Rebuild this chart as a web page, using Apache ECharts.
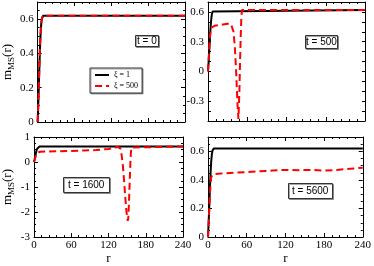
<!DOCTYPE html>
<html><head><meta charset="utf-8">
<script src="https://cdn.jsdelivr.net/npm/echarts@6/dist/echarts.min.js"></script>
<style>html,body{margin:0;padding:0;background:#fff}#c{width:374px;height:266px}</style>
</head><body><div id="c"></div>
<script>
// ---- data ----
const seriesNames = ['\u03be = 1', '\u03be = 500'];
const timeLabels = ['t = 0', 't = 500', 't = 1600', 't = 5600'];
const xTickLabels = ['0', '60', '120', '180', '240'];

// xi = 1 (same in every panel)
const rBlack = [0, 1, 2, 3, 4, 5, 6, 7, 8, 9, 10, 240];
const vBlack = [0, 0.1, 0.22, 0.34, 0.45, 0.53, 0.58, 0.605, 0.615, 0.62, 0.62, 0.62];

// xi = 500, t = 0
const rRed0 = [0, 1, 2, 3, 4, 5, 6, 7, 8, 9, 10, 240];
const vRed0 = [0, 0.1, 0.22, 0.34, 0.45, 0.53, 0.58, 0.605, 0.615, 0.62, 0.62, 0.62];

// xi = 500, t = 500
const rRed500 = [0, 1, 2, 3, 4, 5, 6, 8, 10, 15, 20, 25, 30, 33, 35, 37, 39, 41, 43, 45, 46.5, 48, 49, 50, 51, 52, 240];
const vRed500 = [0, 0.12, 0.25, 0.35, 0.41, 0.44, 0.45, 0.455, 0.46, 0.465, 0.47, 0.475, 0.48, 0.48, 0.48, 0.46, 0.40, 0.25, 0.0, -0.32, -0.48, -0.2, 0.1, 0.35, 0.55, 0.62, 0.62];

// xi = 500, t = 1600
const rRed1600 = [0, 1, 2, 3, 4, 5, 6, 8, 10, 20, 40, 60, 80, 100, 120, 130, 134, 137, 139, 141, 143, 145, 147, 149, 151, 152, 153, 154, 155, 156, 157, 158, 240];
const vRed1600 = [0, 0.08, 0.17, 0.25, 0.32, 0.37, 0.39, 0.4, 0.41, 0.42, 0.43, 0.44, 0.46, 0.48, 0.52, 0.56, 0.61, 0.62, 0.55, 0.3, -0.1, -0.7, -1.4, -2.0, -2.35, -2.2, -1.6, -0.9, -0.2, 0.35, 0.58, 0.62, 0.62];

// xi = 500, t = 5600
const rRed5600 = [0, 1, 2, 3, 4, 5, 6, 8, 10, 20, 40, 60, 80, 100, 120, 140, 160, 180, 200, 220, 240];
const vRed5600 = [0, 0.1, 0.2, 0.3, 0.38, 0.42, 0.43, 0.44, 0.44, 0.445, 0.45, 0.455, 0.46, 0.465, 0.47, 0.468, 0.47, 0.465, 0.47, 0.478, 0.485];

// y tick labels per panel
const yTicks0 = ['0', '0.2', '0.4', '0.6'];
const yTicks500 = ['-0.3', '0', '0.3', '0.6'];
const yTicks1600 = ['-3', '-2', '-1', '0', '1'];
const yTicks5600 = ['0', '0.2', '0.4', '0.6'];

// ---- layout ----
const panels = [
  {grid: {left: 32, top: 2, width: 153, height: 120}, y: {min: 0, max: 0.7, interval: 0.2, minor: 4}, ticks: yTicks0, red: [rRed0, vRed0], xLabels: false, yName: true,
   box: {left: 135, top: 35, padding: [1, 2]}},
  {grid: {left: 208, top: 2, width: 157, height: 119}, y: {min: -0.5, max: 0.7, interval: 0.1, minor: 0}, ticks: yTicks500, red: [rRed500, vRed500], xLabels: false, yName: false,
   box: {left: 305, top: 35, padding: [2, 1]}},
  {grid: {left: 32, top: 137, width: 151, height: 110}, y: {min: -3, max: 1, interval: 1, minor: 4}, ticks: yTicks1600, red: [rRed1600, vRed1600], xLabels: true, yName: true,
   box: {left: 63, top: 177, padding: [3, 5]}},
  {grid: {left: 208, top: 137, width: 158, height: 108}, y: {min: 0, max: 0.7, interval: 0.2, minor: 4}, ticks: yTicks5600, red: [rRed5600, vRed5600], xLabels: true, yName: false,
   box: {left: 288, top: 183, padding: [3, 4]}}
];

const serif = 'Liberation Serif';
const black = '#000';
const tickStyle = {color: black, width: 1};

function fmt(list) {
  return function (v) {
    const s = String(+(+v).toFixed(2));
    return list.indexOf(s) >= 0 ? s : '';
  };
}
function zip(a, b) { return a.map((x, i) => [x, b[i]]); }

const grids = [], xAxes = [], yAxes = [], series = [], titles = [];
panels.forEach((p, i) => {
  grids.push(Object.assign({containLabel: false}, p.grid));
  const xBase = {
    type: 'value', gridIndex: i, min: 0, max: 240, interval: 60,
    axisLine: {onZero: false, lineStyle: tickStyle},
    axisTick: {inside: true, length: 4, lineStyle: tickStyle},
    minorTick: {show: true, splitNumber: 5, length: 2, lineStyle: tickStyle},
    splitLine: {show: false}
  };
  xAxes.push(Object.assign({}, xBase, {
    position: 'bottom',
    axisLabel: {show: p.xLabels, fontFamily: serif, fontSize: 11, color: black, margin: 3,
      formatter: v => xTickLabels.indexOf(String(v)) >= 0 ? String(v) : ''},
    name: p.xLabels ? 'r' : '', nameLocation: 'middle', nameGap: 13,
    nameTextStyle: {fontFamily: serif, fontSize: 13, color: black}
  }));
  xAxes.push(Object.assign({}, xBase, {position: 'top', axisLabel: {show: false}}));
  const yBase = {
    type: 'value', gridIndex: i, min: p.y.min, max: p.y.max, interval: p.y.interval,
    axisLine: {onZero: false, lineStyle: tickStyle},
    axisTick: {inside: true, length: p.y.minor ? 4 : 3, lineStyle: tickStyle},
    minorTick: {show: p.y.minor > 0, splitNumber: p.y.minor || 1, length: 2, lineStyle: tickStyle},
    splitLine: {show: false}
  };
  yAxes.push(Object.assign({}, yBase, {
    position: 'left',
    axisLabel: {fontFamily: serif, fontSize: 11, color: black, margin: 4, formatter: fmt(p.ticks)},
    name: p.yName ? '{m|m}{s|MS}{m|(r)}' : '', nameLocation: 'middle', nameGap: 18, nameRotate: 90,
    nameTextStyle: {
      color: black,
      rich: {
        m: {fontFamily: serif, fontSize: 13, color: black},
        s: {fontFamily: serif, fontSize: 9, color: black, padding: [8, 0, 0, 0]}
      }
    }
  }));
  yAxes.push(Object.assign({}, yBase, {position: 'right', axisLabel: {show: false}}));

  series.push({
    name: seriesNames[0], type: 'line', xAxisIndex: 2 * i, yAxisIndex: 2 * i,
    data: zip(rBlack, vBlack), showSymbol: false, symbol: 'none', clip: true,
    lineStyle: {color: '#000', width: 2}, itemStyle: {color: '#000'}, z: 2
  });
  series.push({
    name: seriesNames[1], type: 'line', xAxisIndex: 2 * i, yAxisIndex: 2 * i,
    data: zip(p.red[0], p.red[1]), showSymbol: false, symbol: 'none', clip: true,
    lineStyle: {color: '#ff0000', width: 2, type: [7, 4]}, itemStyle: {color: '#ff0000'}, z: 3
  });

  titles.push({
    text: timeLabels[i], left: p.box.left, top: p.box.top, padding: p.box.padding,
    textStyle: {fontFamily: 'Liberation Sans', fontSize: 10, fontWeight: 'normal', color: black},
    borderColor: '#333', borderWidth: 1, backgroundColor: '#fff',
    shadowColor: 'rgba(0,0,0,0.35)', shadowOffsetX: 1, shadowOffsetY: 1, shadowBlur: 0
  });
});

const chart = echarts.init(document.getElementById('c'), null, {renderer: 'canvas'});
chart.setOption({
  animation: false,
  backgroundColor: '#fff',
  title: titles,
  legend: {
    data: seriesNames, orient: 'vertical', left: 90, top: 68,
    itemWidth: 14, itemHeight: 8, itemGap: 3, padding: [3, 4],
    borderColor: '#333', borderWidth: 1, backgroundColor: '#fff',
    shadowColor: 'rgba(0,0,0,0.35)', shadowOffsetX: 1, shadowOffsetY: 1, shadowBlur: 0,
    textStyle: {fontFamily: serif, fontSize: 8, color: black},
    itemStyle: {opacity: 0},
    selectedMode: false
  },
  grid: grids,
  xAxis: xAxes,
  yAxis: yAxes,
  series: series
});
</script>
</body></html>
